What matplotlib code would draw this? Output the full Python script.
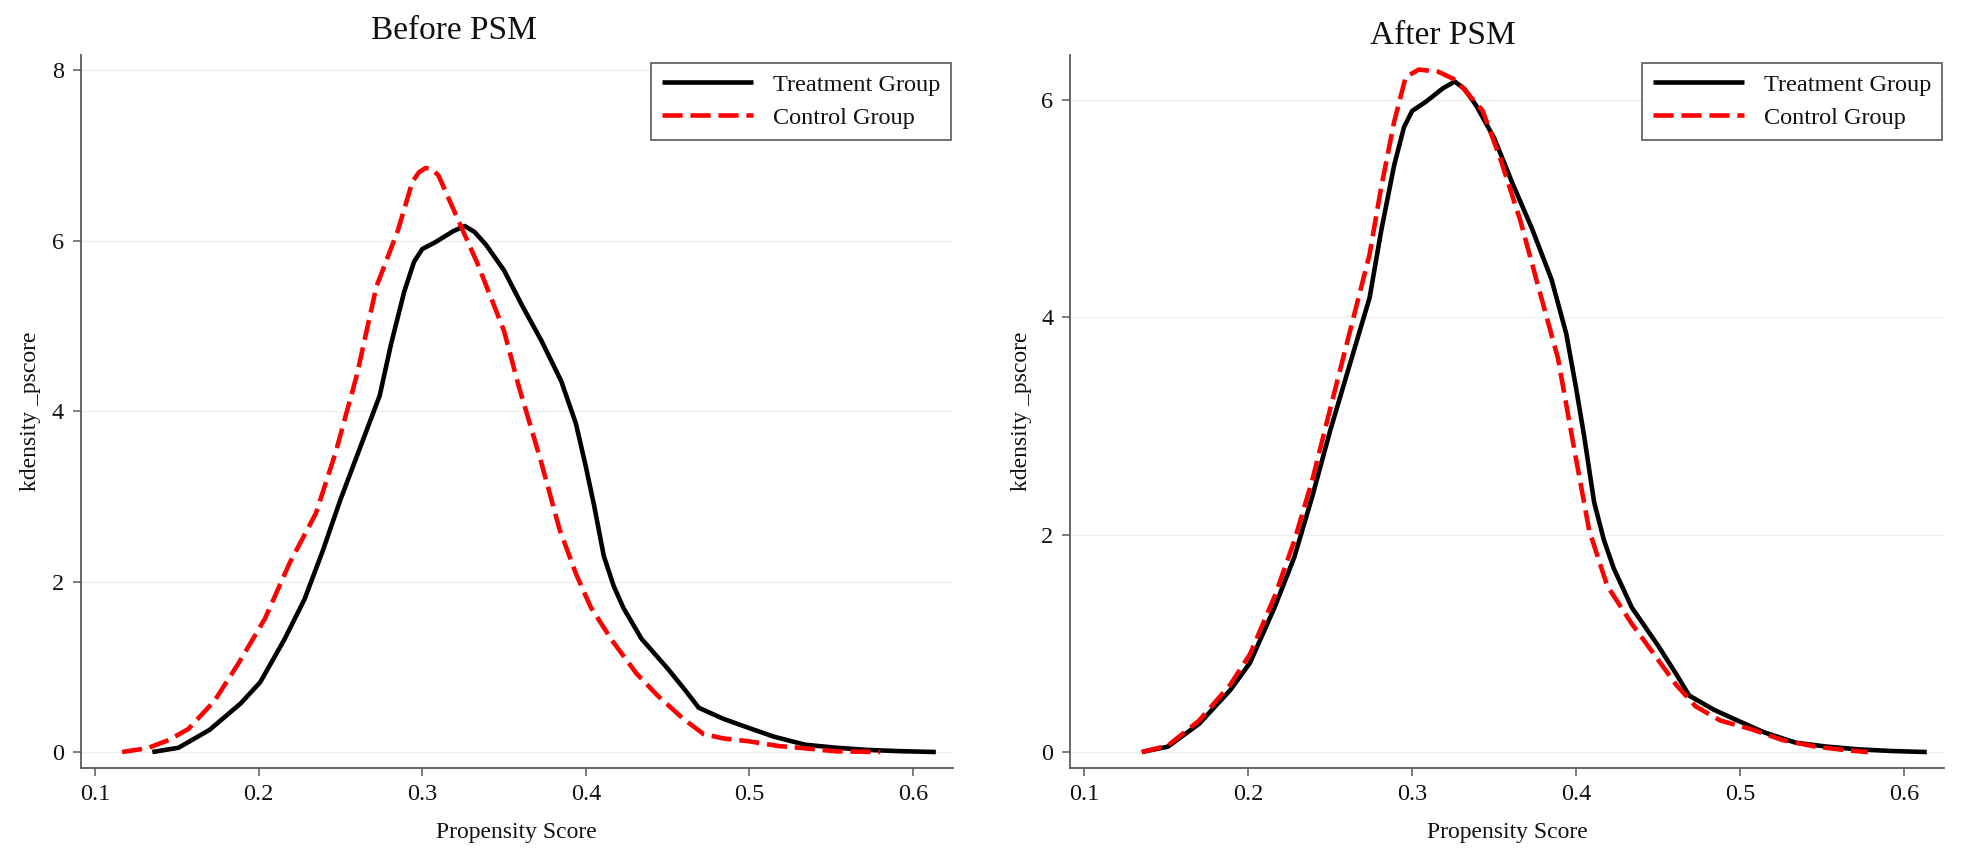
import matplotlib
matplotlib.use("Agg")
import matplotlib.pyplot as plt

plt.rcParams['font.family'] = ['Liberation Serif', 'DejaVu Serif']

# --- data (propensity score, kernel density) ---
# treatment group (same curve in both panels)
treat_x = [0.135, 0.151, 0.170, 0.189, 0.201, 0.216, 0.228, 0.239, 0.250, 0.262,
           0.274, 0.281, 0.289, 0.295, 0.300, 0.308, 0.319, 0.326, 0.332, 0.339,
           0.350, 0.361, 0.373, 0.385, 0.394, 0.400, 0.405, 0.411, 0.417, 0.423,
           0.434, 0.450, 0.461, 0.469, 0.484, 0.500, 0.515, 0.534, 0.553, 0.572,
           0.592, 0.614]
treat_y = [0.00, 0.05, 0.26, 0.57, 0.82, 1.33, 1.79, 2.35, 2.96, 3.57,
           4.18, 4.79, 5.40, 5.75, 5.90, 5.98, 6.11, 6.17, 6.10, 5.95,
           5.65, 5.24, 4.82, 4.35, 3.85, 3.35, 2.90, 2.30, 1.95, 1.69,
           1.33, 0.98, 0.72, 0.52, 0.39, 0.28, 0.18, 0.086, 0.05, 0.025,
           0.01, 0.00]

# control group before matching
ctrl_before_x = [0.1165, 0.132, 0.145, 0.157, 0.173, 0.188, 0.204, 0.219, 0.235, 0.247,
                 0.260, 0.272, 0.285, 0.294, 0.298, 0.302, 0.306, 0.310, 0.322, 0.334,
                 0.350, 0.359, 0.372, 0.384, 0.394, 0.403, 0.416, 0.431, 0.444, 0.459,
                 0.472, 0.484, 0.500, 0.518, 0.532, 0.553, 0.580]
ctrl_before_y = [0.00, 0.045, 0.14, 0.27, 0.60, 1.05, 1.57, 2.22, 2.80, 3.51,
                 4.42, 5.46, 6.11, 6.69, 6.80, 6.85, 6.84, 6.76, 6.24, 5.72,
                 4.94, 4.29, 3.45, 2.61, 2.09, 1.70, 1.31, 0.92, 0.66, 0.40,
                 0.21, 0.16, 0.125, 0.07, 0.047, 0.008, 0.00]

# control group after matching
ctrl_after_x = [0.135, 0.151, 0.170, 0.189, 0.201, 0.216, 0.228, 0.239, 0.250, 0.262,
                0.274, 0.281, 0.289, 0.296, 0.304, 0.316, 0.327, 0.343, 0.354, 0.366,
                0.377, 0.389, 0.398, 0.408, 0.419, 0.434, 0.450, 0.461, 0.473, 0.488,
                0.507, 0.526, 0.546, 0.566, 0.578]
ctrl_after_y = [0.00, 0.06, 0.29, 0.62, 0.90, 1.43, 1.94, 2.50, 3.16, 3.87,
                4.58, 5.19, 5.80, 6.21, 6.28, 6.26, 6.18, 5.90, 5.45, 4.89,
                4.28, 3.62, 2.86, 2.04, 1.53, 1.18, 0.85, 0.62, 0.42, 0.29,
                0.21, 0.11, 0.05, 0.015, 0.00]

x_ticks = [0.1, 0.2, 0.3, 0.4, 0.5, 0.6]
y_ticks_before = [0, 2, 4, 6, 8]
y_ticks_after = [0, 2, 4, 6]

axis_gray = '#5a5a5a'
text_col = '#111111'

fig = plt.figure(figsize=(19.65, 8.66), dpi=100)
W, H = 1965.0, 866.0

ax1 = fig.add_axes([80.7 / W, 1 - 767.7 / H, (953 - 80.7) / W, (767.7 - 55) / H])
ax2 = fig.add_axes([1070 / W, 1 - 767.7 / H, (1944 - 1070) / W, (767.7 - 55) / H])


def style(ax, cx, cy, yticks, ylim):
    ax.plot(treat_x, treat_y, color='black', lw=3.3, label='Treatment Group',
            solid_capstyle='butt', solid_joinstyle='round', zorder=3)
    ax.plot(cx, cy, color='#ff0000', lw=3.3, dashes=(4.4, 1.7),
            label='Control Group', zorder=4)
    ax.set_xlim(0.0912, 0.6245)
    ax.set_ylim(*ylim)
    ax.set_xticks(x_ticks)
    ax.set_xticklabels([str(t) for t in x_ticks])
    ax.set_yticks(yticks)
    ax.set_yticklabels([str(t) for t in yticks])
    ax.grid(axis='y', color='#efefef', lw=1.0, zorder=0)
    ax.set_axisbelow(True)
    for s in ['top', 'right']:
        ax.spines[s].set_visible(False)
    for s in ['left', 'bottom']:
        ax.spines[s].set_color(axis_gray)
        ax.spines[s].set_linewidth(1.3)
    ax.tick_params(direction='out', length=6, width=1.1, color=axis_gray,
                   labelsize=17.5, labelcolor=text_col, pad=6)
    ax.set_xlabel('Propensity Score', fontsize=17, color=text_col, labelpad=12)
    leg = ax.legend(loc='upper right', bbox_to_anchor=(0.998, 0.989), borderaxespad=0,
                    fontsize=17.5, frameon=True, fancybox=False, handlelength=3.75,
                    handletextpad=0.8, borderpad=0.45, labelspacing=0.45)
    leg.get_frame().set_edgecolor('#404040')
    leg.get_frame().set_linewidth(1.3)
    for t in leg.get_texts():
        t.set_color(text_col)


style(ax1, ctrl_before_x, ctrl_before_y, y_ticks_before, (-0.184, 8.176))
style(ax2, ctrl_after_x, ctrl_after_y, y_ticks_after, (-0.144, 6.414))

# titles and y labels placed in figure pixels
fig.text(453.7 / W, 1 - 39 / H, 'Before PSM', ha='center', va='baseline',
         fontsize=24, color=text_col)
fig.text(1442.5 / W, 1 - 44 / H, 'After PSM', ha='center', va='baseline',
         fontsize=24, color=text_col)
fig.text(31 / W, 1 - 411 / H, 'kdensity _pscore', rotation=90, ha='center',
         va='center', fontsize=17, color=text_col)
fig.text(1021 / W, 1 - 411 / H, 'kdensity _pscore', rotation=90, ha='center',
         va='center', fontsize=17, color=text_col)

fig.savefig('out.png', dpi=100, facecolor='white')
